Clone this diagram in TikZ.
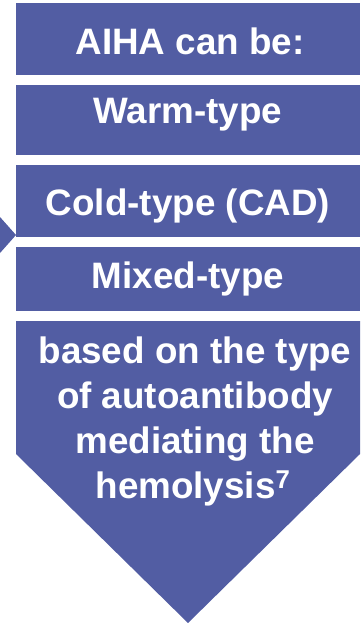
\documentclass[tikz,border=0pt]{standalone}
\usepackage{fontspec}
\setmainfont{Liberation Sans}
\definecolor{aiha}{RGB}{82,93,163}
\tikzset{
  boxfill/.style={fill=aiha, draw=none},
  lbl/.style={text=white, font=\fontsize{36.8}{45}\selectfont\bfseries, inner sep=0pt, anchor=base},
}
\begin{document}
\begin{tikzpicture}[x=1pt,y=-1pt]
\useasboundingbox (0,0) rectangle (362,623);
% left pointer
\fill[boxfill] (0,217) -- (16,235) -- (0,253) -- cycle;
% boxes
\fill[boxfill] (16,3) rectangle (360,75);
\fill[boxfill] (16,85) rectangle (360,155);
\fill[boxfill] (16,165) rectangle (360,237);
\fill[boxfill] (16,247) rectangle (360,311);
\fill[boxfill] (16,321) -- (360,321) -- (360,454) -- (188,623) -- (16,454) -- cycle;
% texts
\node[lbl] (t1) at (190,55) {AIHA can be:};
\node[lbl] (t2) at (188,123) {Warm-type};
\node[lbl] (t3) at (188,215) {Cold-type (CAD)};
\node[lbl] (t4) at (188,288) {Mixed-type};
\node[lbl] (t5a) at (195,363) {based on the type};
\node[lbl] (t5b) at (195,408) {of autoantibody};
\node[lbl] (t5c) at (195,453) {mediating the};
\node[lbl] (t5d) at (193,498) {hemolysis\textsuperscript{7}};
\end{tikzpicture}
\end{document}
